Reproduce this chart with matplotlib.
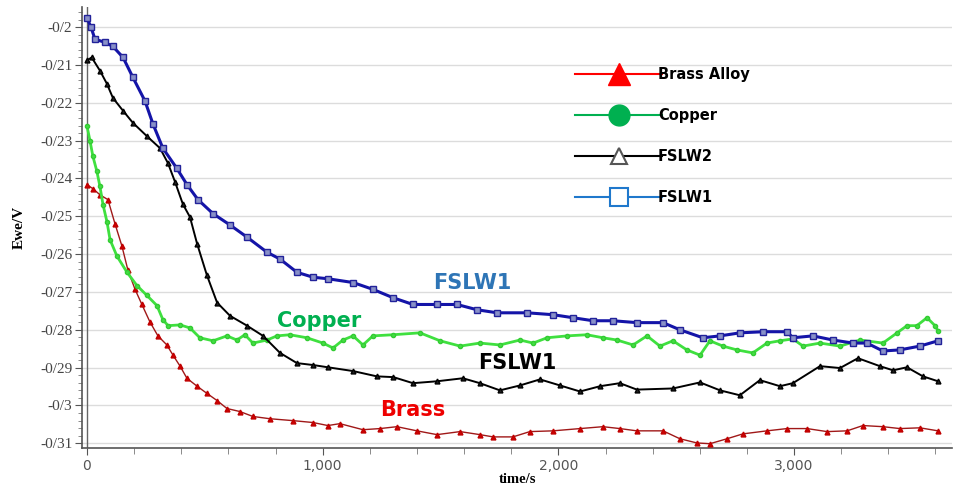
import numpy as np
import matplotlib
matplotlib.use("Agg")
import matplotlib.pyplot as plt
from matplotlib.lines import Line2D
from matplotlib.ticker import FixedLocator, FixedFormatter, MultipleLocator

# ---- data (time in s, Ewe in V) ----
brass_t = [0, 25, 55, 89, 119, 148, 174, 204, 233, 267, 301, 339, 365, 395, 424, 467,
           509, 552, 594, 649, 704, 776, 874, 959, 1022, 1073, 1171, 1243, 1315, 1400,
           1485, 1583, 1667, 1723, 1807, 1879, 1977, 2092, 2189, 2261, 2333, 2444, 2516,
           2588, 2643, 2715, 2783, 2885, 2970, 3055, 3140, 3225, 3292, 3377, 3449, 3534, 3611]
brass_v = [-0.2416, -0.2427, -0.2443, -0.2456, -0.2520, -0.2578, -0.2643, -0.2693, -0.2733,
           -0.2779, -0.2816, -0.2840, -0.2867, -0.2896, -0.2928, -0.2949, -0.2968, -0.2987,
           -0.3008, -0.3016, -0.3029, -0.3035, -0.3040, -0.3045, -0.3053, -0.3048, -0.3064,
           -0.3061, -0.3056, -0.3067, -0.3077, -0.3069, -0.3077, -0.3083, -0.3083, -0.3069,
           -0.3067, -0.3061, -0.3056, -0.3061, -0.3067, -0.3067, -0.3088, -0.3099, -0.3101,
           -0.3088, -0.3075, -0.3067, -0.3061, -0.3061, -0.3069, -0.3067, -0.3053, -0.3056,
           -0.3061, -0.3059, -0.3067]

copper_t = [0, 13, 25, 42, 55, 68, 85, 98, 127, 170, 212, 254, 297, 322, 344, 395, 437,
            479, 535, 594, 636, 670, 704, 764, 806, 861, 933, 1001, 1044, 1086, 1129, 1171,
            1213, 1298, 1413, 1498, 1583, 1667, 1752, 1837, 1893, 1952, 2037, 2121, 2189,
            2249, 2317, 2376, 2431, 2486, 2545, 2601, 2643, 2698, 2757, 2825, 2885, 2940,
            2995, 3038, 3110, 3195, 3280, 3377, 3437, 3479, 3521, 3564, 3598, 3611]
copper_v = [-0.2261, -0.2301, -0.2341, -0.2381, -0.2421, -0.2469, -0.2515, -0.2562, -0.2605,
            -0.2648, -0.2683, -0.2709, -0.2736, -0.2773, -0.2789, -0.2787, -0.2795, -0.2821,
            -0.2829, -0.2816, -0.2827, -0.2813, -0.2835, -0.2827, -0.2816, -0.2813, -0.2821,
            -0.2835, -0.2848, -0.2827, -0.2816, -0.2840, -0.2816, -0.2813, -0.2808, -0.2829,
            -0.2843, -0.2835, -0.2840, -0.2827, -0.2835, -0.2821, -0.2816, -0.2813, -0.2821,
            -0.2827, -0.2840, -0.2816, -0.2843, -0.2829, -0.2853, -0.2867, -0.2829, -0.2843,
            -0.2853, -0.2861, -0.2835, -0.2829, -0.2824, -0.2843, -0.2835, -0.2843, -0.2827,
            -0.2835, -0.2808, -0.2789, -0.2789, -0.2768, -0.2789, -0.2803]

fslw2_t = [0, 20, 55, 84, 110, 153, 195, 254, 310, 344, 373, 407, 437, 467, 509, 552, 607,
           679, 747, 819, 891, 959, 1022, 1129, 1230, 1300, 1383, 1485, 1595, 1667, 1752,
           1837, 1922, 2007, 2092, 2177, 2261, 2333, 2486, 2601, 2686, 2770, 2855, 2940,
           2995, 3110, 3195, 3271, 3364, 3420, 3479, 3547, 3611]
fslw2_v = [-0.2088, -0.2080, -0.2115, -0.2149, -0.2187, -0.2221, -0.2253, -0.2288, -0.2320,
           -0.2360, -0.2408, -0.2468, -0.2502, -0.2572, -0.2656, -0.2728, -0.2763, -0.2789,
           -0.2816, -0.2861, -0.2888, -0.2893, -0.2899, -0.2909, -0.2923, -0.2925, -0.2941,
           -0.2936, -0.2928, -0.2941, -0.2960, -0.2947, -0.2931, -0.2947, -0.2963, -0.2949,
           -0.2941, -0.2958, -0.2955, -0.2939, -0.2960, -0.2973, -0.2933, -0.2949, -0.2941,
           -0.2896, -0.2901, -0.2875, -0.2896, -0.2907, -0.2899, -0.2923, -0.2936]

fslw1_t = [0, 17, 34, 76, 110, 153, 195, 246, 280, 322, 381, 424, 471, 535, 607, 679, 764,
           819, 891, 959, 1022, 1129, 1213, 1298, 1383, 1485, 1570, 1655, 1740, 1867, 1977,
           2062, 2147, 2232, 2333, 2444, 2516, 2613, 2686, 2770, 2870, 2970, 2995, 3080,
           3165, 3250, 3309, 3377, 3449, 3534, 3611]
fslw1_v = [-0.1976, -0.2000, -0.2032, -0.2040, -0.2051, -0.2080, -0.2133, -0.2195, -0.2256,
           -0.2320, -0.2373, -0.2416, -0.2456, -0.2493, -0.2523, -0.2555, -0.2595, -0.2613,
           -0.2648, -0.2661, -0.2665, -0.2675, -0.2693, -0.2715, -0.2733, -0.2733, -0.2733,
           -0.2747, -0.2755, -0.2755, -0.2760, -0.2768, -0.2776, -0.2776, -0.2781, -0.2781,
           -0.2800, -0.2821, -0.2816, -0.2808, -0.2805, -0.2805, -0.2821, -0.2816, -0.2827,
           -0.2835, -0.2835, -0.2856, -0.2853, -0.2843, -0.2829]

y_ticks = [-0.20, -0.21, -0.22, -0.23, -0.24, -0.25, -0.26, -0.27, -0.28, -0.29, -0.30, -0.31]
y_labels = ["-0/2", "-0/21", "-0/22", "-0/23", "-0/24", "-0/25", "-0/26", "-0/27",
            "-0/28", "-0/29", "-0/3", "-0/31"]
x_ticks = [0, 1000, 2000, 3000]
x_labels = ["0", "1,000", "2,000", "3,000"]

fig = plt.figure(figsize=(9.56, 4.88), dpi=100)
ax = fig.add_axes([0.0858, 0.082, 0.910, 0.9037])

ax.plot(brass_t, brass_v, color="#a01818", lw=1.0, marker="^", ms=3.5,
        mfc="#d00000", mec="#c00000", zorder=3)
ax.plot(copper_t, copper_v, color="#3fe03f", lw=2.0, marker="o", ms=3,
        mfc="#44dd44", mec="#33cc33", zorder=4)
ax.plot(fslw2_t, fslw2_v, color="black", lw=1.4, marker="^", ms=3.5,
        mfc="#222222", mec="black", zorder=5)
ax.plot(fslw1_t, fslw1_v, color="#1414a8", lw=2.2, marker="s", ms=4.5,
        mfc="#8890c8", mec="#22229a", mew=1.0, zorder=6)

ax.axvline(0, color="#666666", lw=1.0, zorder=2)

ax.set_xlim(-21, 3670)
ax.set_ylim(-0.31123, -0.19467)

ax.yaxis.set_major_locator(FixedLocator(y_ticks))
ax.yaxis.set_major_formatter(FixedFormatter(y_labels))
ax.yaxis.set_minor_locator(MultipleLocator(0.002))
ax.xaxis.set_major_locator(FixedLocator(x_ticks))
ax.xaxis.set_major_formatter(FixedFormatter(x_labels))
ax.xaxis.set_minor_locator(MultipleLocator(200))

ax.grid(axis="y", which="major", color="#dcdcdc", lw=1.0)
ax.set_axisbelow(True)
for s in ["top", "right"]:
    ax.spines[s].set_visible(False)
ax.spines["left"].set_color("#555555")
ax.spines["bottom"].set_color("#555555")
ax.spines["left"].set_linewidth(1.2)
ax.spines["bottom"].set_linewidth(1.2)

ax.tick_params(axis="y", which="major", length=5, color="#555555", labelsize=11,
               labelcolor="#444444", pad=2)
ax.tick_params(axis="y", which="minor", length=3, color="#777777")
ax.tick_params(axis="x", which="major", length=5, color="#555555", labelsize=10,
               labelcolor="#555555", pad=3)
ax.tick_params(axis="x", which="minor", length=4, color="#777777")
for lab in ax.get_yticklabels():
    lab.set_family("Liberation Serif")

ax.set_ylabel("Ewe/V", fontsize=11, fontweight="bold", family="Liberation Serif", labelpad=10)
ax.set_xlabel("time/s", fontsize=10.5, fontweight="bold", family="Liberation Serif", labelpad=0)

# in-plot labels
ax.text(1633, -0.2677, "FSLW1", color="#2e75b6", fontsize=15, fontweight="bold",
        ha="center", va="center")
ax.text(984, -0.2777, "Copper", color="#00b050", fontsize=15, fontweight="bold",
        ha="center", va="center")
ax.text(1824, -0.2889, "FSLW1", color="black", fontsize=15, fontweight="bold",
        ha="center", va="center")
ax.text(1383, -0.3011, "Brass", color="#ee0000", fontsize=15, fontweight="bold",
        ha="center", va="center")

handles = [
    Line2D([], [], color="#ff0000", lw=1.5, marker="^", ms=16, mfc="#ff0000", mec="#ff0000"),
    Line2D([], [], color="#00b050", lw=1.5, marker="o", ms=15, mfc="#00b050", mec="#00b050"),
    Line2D([], [], color="black", lw=1.5, marker="^", ms=12, mfc="white", mec="#555555", mew=1.5),
    Line2D([], [], color="#1f78cc", lw=1.5, marker="s", ms=13, mfc="white", mec="#1f78cc", mew=1.5),
]
labels = ["Brass Alloy", "Copper", "FSLW2", "FSLW1"]
leg = ax.legend(handles, labels, loc="upper left", bbox_to_anchor=(0.558, 0.881),
                frameon=False, handlelength=6.0, handletextpad=-0.3, labelspacing=1.8,
                borderpad=0, prop={"weight": "bold", "size": 10.5})

fig.savefig("out.png", dpi=100)
